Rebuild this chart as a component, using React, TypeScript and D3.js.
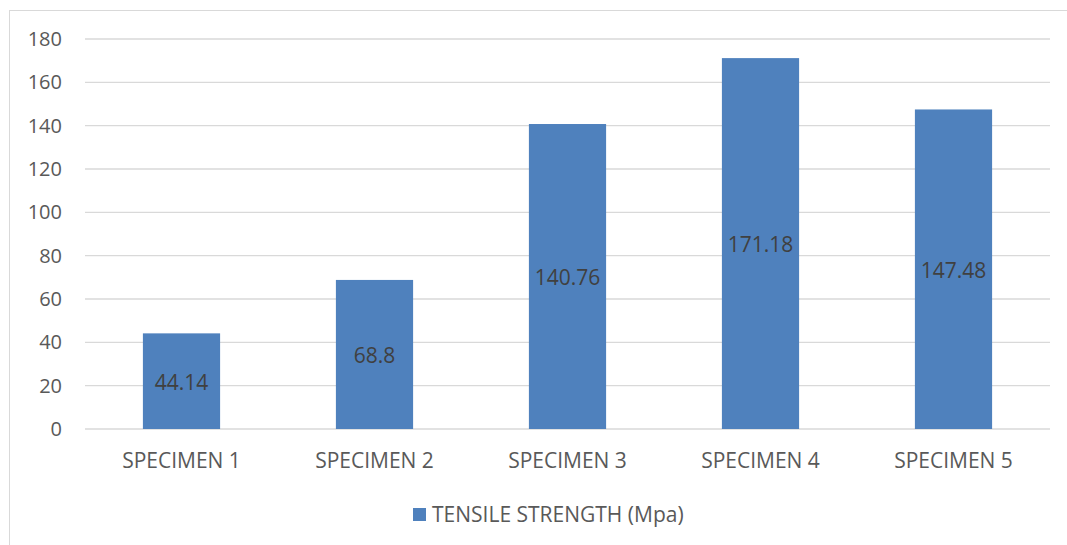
import React from "react";
import * as d3 from "d3";

const categories = ["SPECIMEN 1", "SPECIMEN 2", "SPECIMEN 3", "SPECIMEN 4", "SPECIMEN 5"];
const values = [44.14, 68.8, 140.76, 171.18, 147.48];
const yTicks = [0, 20, 40, 60, 80, 100, 120, 140, 160, 180];
const seriesName = "TENSILE STRENGTH (Mpa)";

const W = 1067;
const H = 545;
const FONT = "'Open Sans', 'Noto Sans', sans-serif";

export default function App() {
  const left = 85, right = 1050, top = 39, bottom = 429;
  const x = d3.scaleBand<string>().domain(categories).range([left, right]).padding(0);
  const y = d3.scaleLinear().domain([0, 180]).range([bottom, top]);
  const bw = x.bandwidth() * 0.4;
  return (
    <svg width={W} height={H} style={{ position: "absolute", left: 0, top: 0 }}>
      <rect x={0} y={0} width={W} height={H} fill="#fff" />
      <rect x={9.5} y={10.5} width={W + 10} height={H + 10} fill="none" stroke="#d9d9d9" strokeWidth={1} />
      {yTicks.map((t) => (
        <g key={t}>
          <line x1={left} x2={right} y1={y(t)} y2={y(t)} stroke="#d9d9d9" strokeWidth={1.3} />
          <text x={62} y={y(t)} dy="0.35em" textAnchor="end" fontFamily={FONT} fontSize={20} fill="#595959">
            {t}
          </text>
        </g>
      ))}
      {categories.map((c, i) => {
        const cx = (x(c) as number) + x.bandwidth() / 2;
        const v = values[i];
        return (
          <g key={c}>
            <rect x={cx - bw / 2} y={y(v)} width={bw} height={y(0) - y(v)} fill="#4f81bd" />
            <text x={cx} y={(y(v) + y(0)) / 2 + 1} dy="0.35em" textAnchor="middle" fontFamily={FONT} fontSize={21} fill="#404040">
              {v}
            </text>
            <text x={cx} y={460.5} dy="0.35em" textAnchor="middle" fontFamily={FONT} fontSize={21} fill="#595959">
              {c}
            </text>
          </g>
        );
      })}
      <rect x={413} y={508} width={13} height={13} fill="#4f81bd" />
      <text x={432} y={514.5} dy="0.35em" fontFamily={FONT} fontSize={21} fill="#595959">
        {seriesName}
      </text>
    </svg>
  );
}
